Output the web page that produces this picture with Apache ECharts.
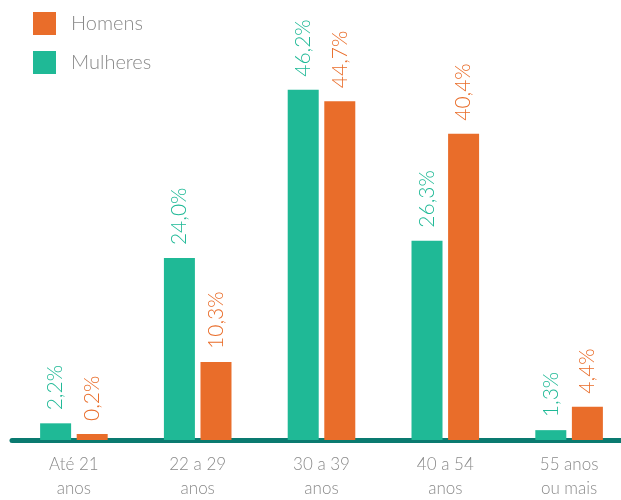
<!DOCTYPE html>
<html>
<head>
<meta charset="utf-8">
<script src="https://cdn.jsdelivr.net/npm/echarts@6/dist/echarts.min.js"></script>
<style>
  html, body { margin: 0; padding: 0; background: #fff; }
  #chart { width: 621px; height: 500px; }
</style>
</head>
<body>
<div id="chart"></div>
<script>
// Age groups and share of each group (%) by gender
const categories = ['Até 21\nanos', '22 a 29\nanos', '30 a 39\nanos', '40 a 54\nanos', '55 anos\nou mais'];
const mulheres = [2.2, 24.0, 46.2, 26.3, 1.3];
const homens = [0.2, 10.3, 44.7, 40.4, 4.4];

const TEAL = '#1fb996';
const ORANGE = '#e96d2a';
const FONT = 'Lato, "Open Sans", sans-serif';

const fmt = p => p.value.toFixed(1).replace('.', ',') + '%';

function barSeries(name, data, color) {
  return {
    name: name,
    type: 'bar',
    data: data,
    barWidth: 31,
    barGap: '18%',
    barMinHeight: 6,
    itemStyle: { color: color },
    label: {
      show: true,
      position: 'top',
      rotate: 90,
      align: 'left',
      verticalAlign: 'middle',
      distance: 13,
      formatter: fmt,
      color: color,
      fontFamily: FONT,
      fontWeight: 300,
      fontSize: 21
    }
  };
}

const chart = echarts.init(document.getElementById('chart'), null, { renderer: 'canvas' });
chart.setOption({
  animation: false,
  legend: {
    data: ['Homens', 'Mulheres'],
    orient: 'vertical',
    left: 33,
    top: 12,
    padding: 0,
    icon: 'rect',
    itemWidth: 23,
    itemHeight: 23,
    itemGap: 16,
    textStyle: { color: '#8a8a8a', fontSize: 20, fontFamily: FONT, fontWeight: 300, padding: [0, 0, 0, 10] }
  },
  grid: { left: 12, width: 619, top: 61, bottom: 60, containLabel: false, outerBoundsMode: 'none' },
  xAxis: {
    type: 'category',
    data: categories,
    offset: 2.5,
    axisLine: { lineStyle: { color: '#0a7a70', width: 5 } },
    axisTick: { show: false },
    axisLabel: {
      color: '#8a8a8a',
      fontSize: 17,
      fontFamily: FONT,
      fontWeight: 300,
      lineHeight: 24,
      margin: 10
    }
  },
  yAxis: {
    type: 'value',
    min: 0,
    max: 50,
    show: false,
    splitLine: { show: false }
  },
  series: [
    barSeries('Mulheres', mulheres, TEAL),
    barSeries('Homens', homens, ORANGE)
  ]
});
</script>
</body>
</html>
